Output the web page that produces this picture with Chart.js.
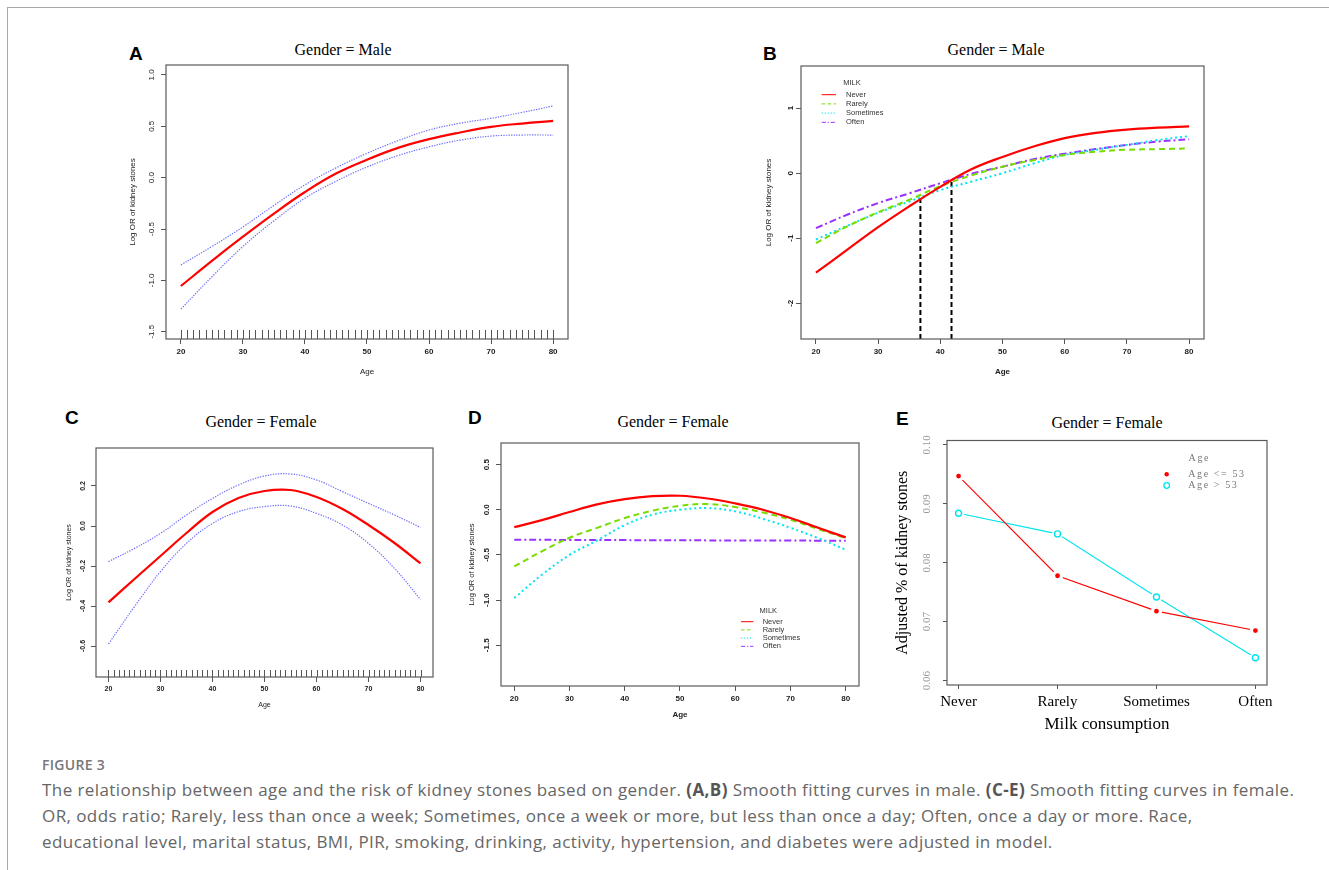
<!DOCTYPE html>
<html><head><meta charset="utf-8">
<script src="https://cdn.jsdelivr.net/npm/chart.js@4.4.1/dist/chart.umd.min.js"></script>
<style>
body{margin:0;background:#fff;width:1329px;height:870px;position:relative;overflow:hidden;font-family:"Liberation Sans",Arial,sans-serif}
.frame{position:absolute;left:7px;top:7px;width:1330px;height:870px;border-left:1px solid #a8a8a8;border-top:1px solid #a8a8a8}
.letter{position:absolute;font:bold 19px "Liberation Sans",Arial,sans-serif;line-height:19px;color:#000}
.ptitle{position:absolute;width:300px;text-align:center;font:16px "Liberation Serif","Times New Roman",serif;line-height:16px;color:#000;white-space:nowrap}
.cw{position:absolute}
.cap-h{position:absolute;left:42px;top:757px;font:600 14px "Open Sans",sans-serif;line-height:16px;color:#777;letter-spacing:0.3px}
.cap{position:absolute;left:42px;top:777px;width:1285px;font:17px "Open Sans",sans-serif;line-height:26px;color:#666;white-space:nowrap;letter-spacing:0.42px}
.cap b{color:#555}
</style></head><body>
<div class="frame"></div>
<div class="letter" style="left:129px;top:43.5px">A</div>
<div class="letter" style="left:763px;top:43.5px">B</div>
<div class="letter" style="left:65px;top:407.5px">C</div>
<div class="letter" style="left:468px;top:407.5px">D</div>
<div class="letter" style="left:896px;top:408.5px">E</div>
<div class="ptitle" style="left:193px;top:42px">Gender = Male</div>
<div class="ptitle" style="left:846px;top:42px">Gender = Male</div>
<div class="ptitle" style="left:111px;top:414px">Gender = Female</div>
<div class="ptitle" style="left:523px;top:414px">Gender = Female</div>
<div class="ptitle" style="left:957px;top:414.5px">Gender = Female</div>
<div class="cap-h">FIGURE 3</div>
<div class="cap">The relationship between age and the risk of kidney stones based on gender. <b>(A,B)</b> Smooth fitting curves in male. <b>(C-E)</b> Smooth fitting curves in female.<br>OR, odds ratio; Rarely, less than once a week; Sometimes, once a week or more, but less than once a day; Often, once a day or more. Race,<br>educational level, marital status, BMI, PIR, smoking, drinking, activity, hypertension, and diabetes were adjusted in model.</div>
<script>
// ---------- data ----------
const ages = [20,25,30,35,40,45,50,55,60,65,70,75,80];
const rugAges = [20,21,22,23,24,25,26,27,28,29,30,31,32,33,34,35,36,37,38,39,40,41,42,43,44,45,46,47,48,49,50,51,52,53,54,55,56,57,58,59,60,61,62,63,64,65,66,67,68,69,70,71,72,73,74,75,76,77,78,79,80];
const ageTicks = [20,30,40,50,60,70,80];
const ageTickLabels = ['20','30','40','50','60','70','80'];

// Panel A (male, overall)
const maleFit   = [-1.055,-0.81,-0.575,-0.35,-0.14,0.04,0.175,0.29,0.375,0.44,0.495,0.527,0.552];
const maleUpper = [-0.85,-0.67,-0.48,-0.27,-0.07,0.095,0.237,0.36,0.464,0.53,0.578,0.635,0.698];
const maleLower = [-1.28,-0.965,-0.67,-0.42,-0.2,-0.035,0.104,0.215,0.30,0.365,0.405,0.415,0.415];
const yTicksA = [-1.5,-1.0,-0.5,0.0,0.5,1.0];
const yTickLabelsA = ['-1.5','-1.0','-0.5','0.0','0.5','1.0'];

// Panel B (male, by milk)
const milkGroups = ['Never','Rarely','Sometimes','Often'];
const maleNever     = [-1.53,-1.18,-0.83,-0.51,-0.21,0.06,0.25,0.41,0.54,0.62,0.67,0.70,0.72];
const maleRarely    = [-1.075,-0.82,-0.60,-0.41,-0.2,-0.035,0.10,0.2,0.28,0.33,0.36,0.37,0.38];
const maleSometimes = [-1.02,-0.81,-0.61,-0.435,-0.26,-0.13,0.0,0.15,0.28,0.36,0.435,0.51,0.57];
const maleOften     = [-0.845,-0.64,-0.46,-0.31,-0.155,-0.01,0.10,0.215,0.30,0.37,0.435,0.486,0.52];
const cutAges   = [36.8, 41.8];
const cutValues = [-0.384, -0.102];
const yTicksB = [-2,-1,0,1];
const yTickLabelsB = ['-2','-1','0','1'];

// Panel C (female, overall)
const femaleFit   = [-0.382,-0.265,-0.15,-0.035,0.07,0.14,0.175,0.18,0.145,0.085,0.005,-0.085,-0.187];
const femaleUpper = [-0.178,-0.112,-0.037,0.055,0.138,0.205,0.25,0.26,0.23,0.172,0.113,0.055,-0.007];
const femaleLower = [-0.59,-0.403,-0.228,-0.087,0.013,0.072,0.097,0.1,0.063,0.005,-0.087,-0.212,-0.367];
const yTicksC = [-0.6,-0.4,-0.2,0.0,0.2];
const yTickLabelsC = ['-0.6','-0.4','-0.2','0.0','0.2'];

// Panel D (female, by milk)
const femaleNever     = [-0.192,-0.115,-0.025,0.06,0.118,0.15,0.155,0.125,0.07,0.0,-0.092,-0.2,-0.306];
const femaleRarely    = [-0.627,-0.46,-0.31,-0.2,-0.092,-0.011,0.044,0.063,0.03,-0.03,-0.11,-0.214,-0.314];
const femaleSometimes = [-0.978,-0.72,-0.50,-0.34,-0.17,-0.055,0.0,0.018,-0.018,-0.1,-0.2,-0.314,-0.443];
const femaleOften     = [-0.332,-0.333,-0.334,-0.335,-0.336,-0.337,-0.338,-0.339,-0.34,-0.341,-0.341,-0.342,-0.343];
const yTicksD = [-1.5,-1.0,-0.5,0.0,0.5];
const yTickLabelsD = ['-1.5','-1.0','-0.5','0.0','0.5'];

// Panel E (female, adjusted %)
const milkCategories = ['Never','Rarely','Sometimes','Often'];
const ageGroups = ['Age <= 53','Age > 53'];
const ageLe53 = [0.0947,0.0778,0.0718,0.0685];
const ageGt53 = [0.0884,0.0849,0.0742,0.0639];
const yTicksE = [0.06,0.07,0.08,0.09,0.10];
const yTickLabelsE = ['0.06','0.07','0.08','0.09','0.10'];

// ---------- helpers ----------
const SANS = '"Liberation Sans", Arial, sans-serif';
const SERIF = '"Liberation Serif", "Times New Roman", serif';
const F = (size, weight, family) => ({size, weight: weight || 'normal', family: family || SANS, lineHeight: 1});
const pts = (xs, ys) => xs.map((x, i) => ({x, y: ys[i]}));
const catPos = milkCategories.map((c, i) => i + 1);

const RED = '#ff0000', GREEN = '#77dd00', CYAN = '#00e5ee', PURPLE = '#9a32ff', CI = 'rgba(70,70,255,0.8)';

function curve(data, color, width, dash) {
  return {data, borderColor: color, borderWidth: width, borderDash: dash || [], tension: 0.4, pointRadius: 0, fill: false};
}

function axis(o, isX, thick) {
  return {
    type: 'linear', position: isX ? 'bottom' : 'left', min: o.min, max: o.max,
    afterBuildTicks: s => { s.ticks = o.ticks.map(v => ({value: v})); },
    afterFit: s => { if (isX) s.height = thick; else s.width = thick; },
    ticks: {autoSkip: false, minRotation: isX ? 0 : 90, maxRotation: isX ? 0 : 90, crossAlign: isX ? 'near' : 'center',
            padding: o.pad, color: o.color || '#222', font: o.font, callback: (v, i) => o.labels[i]},
    grid: {drawOnChartArea: false, drawTicks: true, tickLength: o.tickLen, tickColor: '#555', tickWidth: 1, color: '#555'},
    border: {display: false},
    title: {display: true, text: o.title, color: o.titleColor || '#222', font: o.titleFont,
            padding: isX ? {top: 0, bottom: o.titleD - o.titleFont.size / 2} : {top: o.titleD - o.titleFont.size / 2, bottom: 0}}
  };
}

const boxPlugin = {id: 'box', afterDraw(c) {
  const a = c.chartArea, ctx = c.ctx; ctx.save(); ctx.strokeStyle = '#5a5a5a'; ctx.lineWidth = 1.2;
  ctx.strokeRect(a.left, a.top, a.right - a.left, a.bottom - a.top); ctx.restore();
}};

function rugPlugin(values, len) {
  return {id: 'rug', afterDatasetsDraw(c) {
    const a = c.chartArea, ctx = c.ctx, xs = c.scales.x; ctx.save(); ctx.strokeStyle = '#555'; ctx.lineWidth = 1;
    values.forEach(v => { const px = Math.round(xs.getPixelForValue(v)) + 0.5; ctx.beginPath(); ctx.moveTo(px, a.bottom); ctx.lineTo(px, a.bottom - len); ctx.stroke(); });
    ctx.restore();
  }};
}

function lineLegend(spec) {
  return {id: 'lineLegend', afterDraw(c) {
    const a = c.chartArea, ctx = c.ctx; ctx.save();
    ctx.font = spec.font; ctx.fillStyle = '#333'; ctx.textBaseline = 'middle';
    ctx.textAlign = 'center'; ctx.fillText(spec.title, a.left + spec.titleDx, a.top + spec.titleDy);
    ctx.textAlign = 'left';
    spec.labels.forEach((lab, i) => {
      const ds = c.data.datasets[i], y = a.top + spec.rowDy + i * spec.rowGap;
      ctx.save(); ctx.strokeStyle = ds.borderColor; ctx.lineWidth = 1; ctx.setLineDash(ds.borderDash.map(d => d * 0.6));
      ctx.beginPath(); ctx.moveTo(a.left + spec.x0, y); ctx.lineTo(a.left + spec.x1, y); ctx.stroke(); ctx.restore();
      ctx.fillText(lab, a.left + spec.textDx, y);
    });
    ctx.restore();
  }};
}

function makeChart(rect, box, datasets, xo, yo, plugins) {
  const wrap = document.createElement('div'); wrap.className = 'cw';
  Object.assign(wrap.style, {left: rect.x + 'px', top: rect.y + 'px', width: rect.w + 'px', height: rect.h + 'px'});
  const cv = document.createElement('canvas'); cv.width = rect.w; cv.height = rect.h;
  cv.style.width = rect.w + 'px'; cv.style.height = rect.h + 'px';
  wrap.appendChild(cv); document.body.appendChild(wrap);
  return new Chart(cv, {
    type: 'line', data: {datasets},
    options: {
      responsive: false, animation: false, devicePixelRatio: 1, events: [],
      layout: {padding: {left: 0, top: box.t - rect.y, right: rect.x + rect.w - box.r, bottom: 0}},
      plugins: {legend: {display: false}, tooltip: {enabled: false}},
      scales: {x: axis(xo, true, rect.y + rect.h - box.b), y: axis(yo, false, box.l - rect.x)}
    },
    plugins: [boxPlugin].concat(plugins || [])
  });
}

// ---------- Panel A ----------
makeChart({x: 120, y: 55, w: 460, h: 325}, {l: 166, t: 65, r: 568, b: 339},
  [curve(pts(ages, maleFit), RED, 2.2), curve(pts(ages, maleUpper), CI, 1.2, [1.3, 1.3]), curve(pts(ages, maleLower), CI, 1.2, [1.3, 1.3])],
  {min: 17.6, max: 82.4, ticks: ageTicks, labels: ageTickLabels, font: F(8, 'bold'), pad: 4, tickLen: 5, title: 'Age', titleFont: F(8), titleD: 8},
  {min: -1.571, max: 1.097, ticks: yTicksA, labels: yTickLabelsA, font: F(8), pad: 2, tickLen: 5, title: 'Log OR of kidney stones', titleFont: F(8), titleD: 13},
  [rugPlugin(rugAges, 9)]);

// ---------- Panel B ----------
const B_YMIN = -2.55;
makeChart({x: 755, y: 55, w: 460, h: 325}, {l: 801, t: 66, r: 1204, b: 339},
  [curve(pts(ages, maleNever), RED, 2.2), curve(pts(ages, maleRarely), GREEN, 2, [6, 4]),
   curve(pts(ages, maleSometimes), CYAN, 2, [2, 3]), curve(pts(ages, maleOften), PURPLE, 2, [7, 3, 2, 3])]
  .concat(cutAges.map((a, i) => ({data: [{x: a, y: B_YMIN}, {x: a, y: cutValues[i]}], borderColor: '#000', borderWidth: 2, borderDash: [5, 3], pointRadius: 0, tension: 0}))),
  {min: 17.6, max: 82.4, ticks: ageTicks, labels: ageTickLabels, font: F(8, 'bold'), pad: 4, tickLen: 5, title: 'Age', titleFont: F(8, 'bold'), titleD: 8},
  {min: B_YMIN, max: 1.648, ticks: yTicksB, labels: yTickLabelsB, font: F(8, 'bold'), pad: 2, tickLen: 5, title: 'Log OR of kidney stones', titleFont: F(8), titleD: 14},
  [lineLegend({font: '7.5px ' + SANS, title: 'MILK', titleDx: 51, titleDy: 16.7, labels: milkGroups, rowDy: 28.7, rowGap: 9.2, x0: 20.7, x1: 35, textDx: 45})]);

// ---------- Panel C ----------
makeChart({x: 55, y: 438, w: 390, h: 282}, {l: 96, t: 448, r: 433, b: 677},
  [curve(pts(ages, femaleFit), RED, 2.2), curve(pts(ages, femaleUpper), CI, 1.2, [1.3, 1.3]), curve(pts(ages, femaleLower), CI, 1.2, [1.3, 1.3])],
  {min: 17.6, max: 82.4, ticks: ageTicks, labels: ageTickLabels, font: F(7, 'bold'), pad: 4, tickLen: 5, title: 'Age', titleFont: F(7), titleD: 15},
  {min: -0.755, max: 0.39, ticks: yTicksC, labels: yTickLabelsC, font: F(7, 'bold'), pad: 2, tickLen: 5, title: 'Log OR of kidney stones', titleFont: F(7), titleD: 14},
  [rugPlugin(rugAges, 7)]);

// ---------- Panel D ----------
makeChart({x: 462, y: 433, w: 410, h: 292}, {l: 501, t: 443, r: 859, b: 686},
  [curve(pts(ages, femaleNever), RED, 2.2), curve(pts(ages, femaleRarely), GREEN, 2, [6, 4]),
   curve(pts(ages, femaleSometimes), CYAN, 2, [2, 3]), curve(pts(ages, femaleOften), PURPLE, 2, [7, 3, 2, 3])],
  {min: 17.6, max: 82.4, ticks: ageTicks, labels: ageTickLabels, font: F(8, 'bold'), pad: 4, tickLen: 5, title: 'Age', titleFont: F(8, 'bold'), titleD: 10},
  {min: -1.951, max: 0.739, ticks: yTicksD, labels: yTickLabelsD, font: F(8, 'bold'), pad: 2, tickLen: 5, title: 'Log OR of kidney stones', titleFont: F(7.5), titleD: 10},
  [lineLegend({font: '7.5px ' + SANS, title: 'MILK', titleDx: 267.3, titleDy: 167.7, labels: milkGroups, rowDy: 178.7, rowGap: 8.2, x0: 240, x1: 252.3, textDx: 261.7})]);

// ---------- Panel E ----------
const eLegend = {id: 'eLegend', afterDraw(c) {
  const a = c.chartArea, ctx = c.ctx; ctx.save();
  ctx.font = '10px ' + SERIF; ctx.fillStyle = '#777'; ctx.textBaseline = 'middle'; ctx.letterSpacing = '1.6px';
  ctx.textAlign = 'center'; ctx.fillText('Age', a.left + 252.3, a.top + 17.7);
  ctx.textAlign = 'left';
  ageGroups.forEach((lab, i) => {
    const y = a.top + 33.7 + i * 11.3, x = a.left + 219.7;
    ctx.beginPath(); ctx.arc(x, y, i === 0 ? 2.2 : 2.8, 0, Math.PI * 2);
    if (i === 0) { ctx.fillStyle = RED; ctx.fill(); } else { ctx.strokeStyle = CYAN; ctx.lineWidth = 1.3; ctx.stroke(); }
    ctx.fillStyle = '#777'; ctx.fillText(lab, a.left + 241.3, y);
  });
  ctx.restore();
}};
makeChart({x: 885, y: 429, w: 395, h: 311}, {l: 947, t: 439, r: 1267, b: 685},
  [
    {data: pts(catPos, ageGt53), showLine: false, pointRadius: 3, pointBackgroundColor: '#fff', pointBorderColor: CYAN, pointBorderWidth: 1.4, order: 0},
    {data: pts(catPos, ageLe53), borderColor: RED, borderWidth: 1.1, tension: 0, pointRadius: 4, pointBackgroundColor: RED, pointBorderColor: '#fff', pointBorderWidth: 3.2, order: 1},
    {data: pts(catPos, ageGt53), borderColor: CYAN, borderWidth: 1.1, tension: 0, pointRadius: 4.5, pointBackgroundColor: '#fff', pointBorderColor: '#fff', pointBorderWidth: 2, order: 2}
  ],
  {min: 0.883, max: 4.117, ticks: catPos, labels: milkCategories, font: F(15, 'normal', SERIF), color: '#000', pad: 6, tickLen: 4, title: 'Milk consumption', titleFont: F(17, 'normal', SERIF), titleColor: '#000', titleD: 15},
  {min: 0.05927, max: 0.10074, ticks: yTicksE, labels: yTickLabelsE, font: F(11, 'normal', SERIF), color: '#999', pad: 6, tickLen: 4, title: 'Adjusted % of kidney stones', titleFont: F(16, 'normal', SERIF), titleColor: '#000', titleD: 18},
  [eLegend]);
</script>
</body></html>
